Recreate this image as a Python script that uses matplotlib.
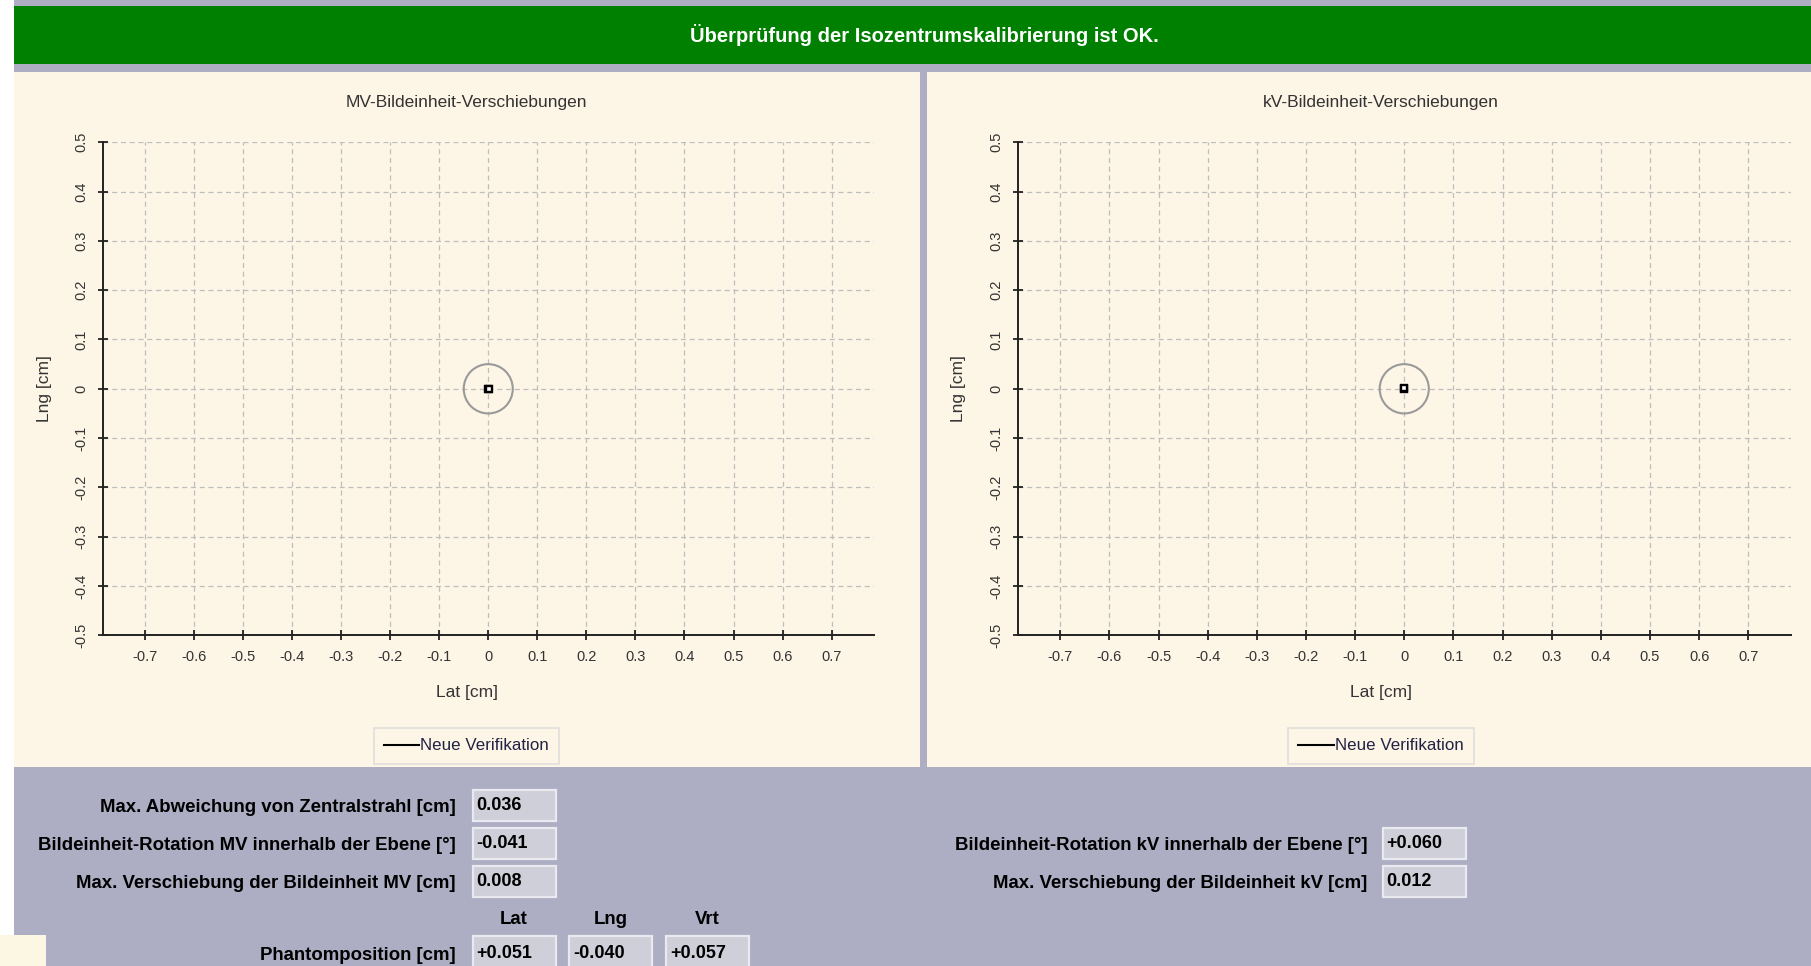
import matplotlib
matplotlib.use("Agg")
import matplotlib.pyplot as plt
from matplotlib.patches import Rectangle, Circle

plt.rcParams["font.family"] = ["Liberation Sans", "DejaVu Sans"]

# ── Data ─────────────────────────────────────────────────────────────────────
BANNER = "Überprüfung der Isozentrumskalibrierung ist OK."
PANEL_TITLES = ["MV-Bildeinheit-Verschiebungen", "kV-Bildeinheit-Verschiebungen"]
LEGEND_LABEL = "Neue Verifikation"

lat_ticks = [-0.7, -0.6, -0.5, -0.4, -0.3, -0.2, -0.1, 0.0, 0.1, 0.2, 0.3, 0.4, 0.5, 0.6, 0.7]
lat_labels = ["-0.7", "-0.6", "-0.5", "-0.4", "-0.3", "-0.2", "-0.1", "0",
              "0.1", "0.2", "0.3", "0.4", "0.5", "0.6", "0.7"]
lng_ticks = [-0.5, -0.4, -0.3, -0.2, -0.1, 0.0, 0.1, 0.2, 0.3, 0.4, 0.5]
lng_labels = ["-0.5", "-0.4", "-0.3", "-0.2", "-0.1", "0", "0.1", "0.2", "0.3", "0.4", "0.5"]

tolerance_cm = 0.05

# imager shifts per verification point [cm]
mv_lat = [0.000, 0.001]
mv_lng = [0.000, -0.001]
kv_lat = [0.000, -0.001]
kv_lng = [0.000, 0.001]

mv_rows = ["Max. Abweichung von Zentralstrahl [cm]",
           "Bildeinheit-Rotation MV innerhalb der Ebene [°]",
           "Max. Verschiebung der Bildeinheit MV [cm]"]
mv_values = ["0.036", "-0.041", "0.008"]
kv_rows = ["Bildeinheit-Rotation kV innerhalb der Ebene [°]",
           "Max. Verschiebung der Bildeinheit kV [cm]"]
kv_values = ["+0.060", "0.012"]
phantom_label = "Phantomposition [cm]"
phantom_axes = ["Lat", "Lng", "Vrt"]
phantom_values = ["+0.051", "-0.040", "+0.057"]

# ── Layout (pixels) ──────────────────────────────────────────────────────────
W, H = 1811, 966
GREEN = "#008000"
CREAM = "#FDF5E6"
GREY = "#ADAEC4"
BOX = "#CFCFD9"
BOX_EDGE = "#E9E9EF"
LABEL_FS = 13.4

fig = plt.figure(figsize=(W / 100, H / 100), dpi=100)
fig.patch.set_facecolor("white")

bg = fig.add_axes([0, 0, 1, 1])
bg.set_xlim(0, W)
bg.set_ylim(H, 0)
bg.axis("off")


def rect(x0, y0, x1, y1, fc, ec="none", lw=0, z=1):
    bg.add_patch(Rectangle((x0, y0), x1 - x0, y1 - y0, facecolor=fc,
                           edgecolor=ec, linewidth=lw, zorder=z))


def px_axes(x0, y0, x1, y1):
    return [x0 / W, 1 - y1 / H, (x1 - x0) / W, (y1 - y0) / H]


# background blocks
rect(14, 0, W, H, GREY)
rect(14, 6, W, 64, GREEN, z=2)
rect(14, 72, 920, 767, CREAM, z=2)
rect(927, 72, W, 767, CREAM, z=2)
rect(0, 935, 46, H, "#FBF7E2", z=2)
bg.text(924, 35, BANNER, color="white", fontsize=14.5, fontweight="bold",
        ha="center", va="center", zorder=3)

# ── Plot panels ──────────────────────────────────────────────────────────────
panels = [
    dict(ax_px=(102.7, 142.3, 873.8, 635.3), cx=466.5, lat=mv_lat, lng=mv_lng, ylab_x=44),
    dict(ax_px=(1018.0, 142.3, 1790.5, 635.3), cx=1381, lat=kv_lat, lng=kv_lng, ylab_x=958),
]

for p, title in zip(panels, PANEL_TITLES):
    ax = fig.add_axes(px_axes(*p["ax_px"]))
    ax.set_facecolor("none")
    ax.set_xlim(-0.786, 0.786)
    ax.set_ylim(-0.5, 0.5)
    ax.set_xticks(lat_ticks)
    ax.set_xticklabels(lat_labels)
    ax.set_yticks(lng_ticks)
    ax.set_yticklabels(lng_labels, rotation=90, va="center")
    ax.tick_params(direction="inout", length=7, width=1.3, colors="#222222",
                   labelsize=10.5, labelcolor="#333333")
    ax.tick_params(axis="x", pad=7)
    ax.tick_params(axis="y", pad=7)
    for side in ("top", "right"):
        ax.spines[side].set_visible(False)
    for side in ("left", "bottom"):
        ax.spines[side].set_linewidth(1.4)
        ax.spines[side].set_color("#222222")
    ax.grid(True, color="#BEBEBE", linestyle=(0, (4, 3)), linewidth=0.9)
    ax.set_axisbelow(True)

    ax.add_patch(Circle((0, 0), tolerance_cm, facecolor="none",
                        edgecolor="#9A9A9A", linewidth=1.5, zorder=3))
    ax.plot(p["lat"], p["lng"], color="black", linewidth=1.5, label=LEGEND_LABEL, zorder=4)
    ax.plot(p["lat"], p["lng"], linestyle="none", marker="s", markersize=5,
            markerfacecolor="white", markeredgecolor="black", markeredgewidth=1.7, zorder=5)

    cx = p["cx"]
    bg.text(cx, 103, title, fontsize=12.5, color="#333333", ha="center", va="center", zorder=3)
    bg.text(cx, 692, "Lat [cm]", fontsize=12.5, color="#333333", ha="center", va="center", zorder=3)
    bg.text(p["ylab_x"], 388.7, "Lng [cm]", fontsize=12.5, color="#333333", rotation=90,
            ha="center", va="center", zorder=3)

    leg = fig.legend(handles=ax.get_lines()[:1], loc="center",
                     bbox_to_anchor=(cx / W, 1 - 746 / H), fontsize=12.2,
                     frameon=True, fancybox=False, handlelength=2.1,
                     handletextpad=0.05, borderpad=0.6, borderaxespad=0)
    leg.get_frame().set_edgecolor("#D9D9D9")
    leg.get_frame().set_facecolor(CREAM)
    leg.get_frame().set_linewidth(1.2)
    for t in leg.get_texts():
        t.set_color("#222244")

# ── Result fields ────────────────────────────────────────────────────────────
def field(x0, y0, value, w=83, h=31):
    rect(x0, y0, x0 + w, y0 + h, BOX, BOX_EDGE, 1.6, z=3)
    bg.text(x0 + 4, y0 + h / 2, value, fontsize=13, fontweight="bold",
            ha="left", va="center", color="black", zorder=4)


row_tops = [790, 828, 866]
for label, val, top in zip(mv_rows, mv_values, row_tops):
    bg.text(456, top + 18, label, fontsize=LABEL_FS, fontweight="bold", ha="right",
            va="center", color="black", zorder=4)
    field(472.5, top, val)

for label, val, top in zip(kv_rows, kv_values, row_tops[1:]):
    bg.text(1367.5, top + 18, label, fontsize=LABEL_FS, fontweight="bold", ha="right",
            va="center", color="black", zorder=4)
    field(1382.5, top, val)

col_x = [472.5, 569, 666]
for name, x0 in zip(phantom_axes, col_x):
    bg.text(x0 + 41.5, 919, name, fontsize=LABEL_FS, fontweight="bold", ha="center",
            va="center", color="black", zorder=4)
bg.text(456, 955, phantom_label, fontsize=LABEL_FS, fontweight="bold", ha="right",
        va="center", color="black", zorder=4)
for val, x0 in zip(phantom_values, col_x):
    field(x0, 936, val, h=34)

fig.savefig("out.png", dpi=100, facecolor=fig.get_facecolor())
plt.close(fig)
